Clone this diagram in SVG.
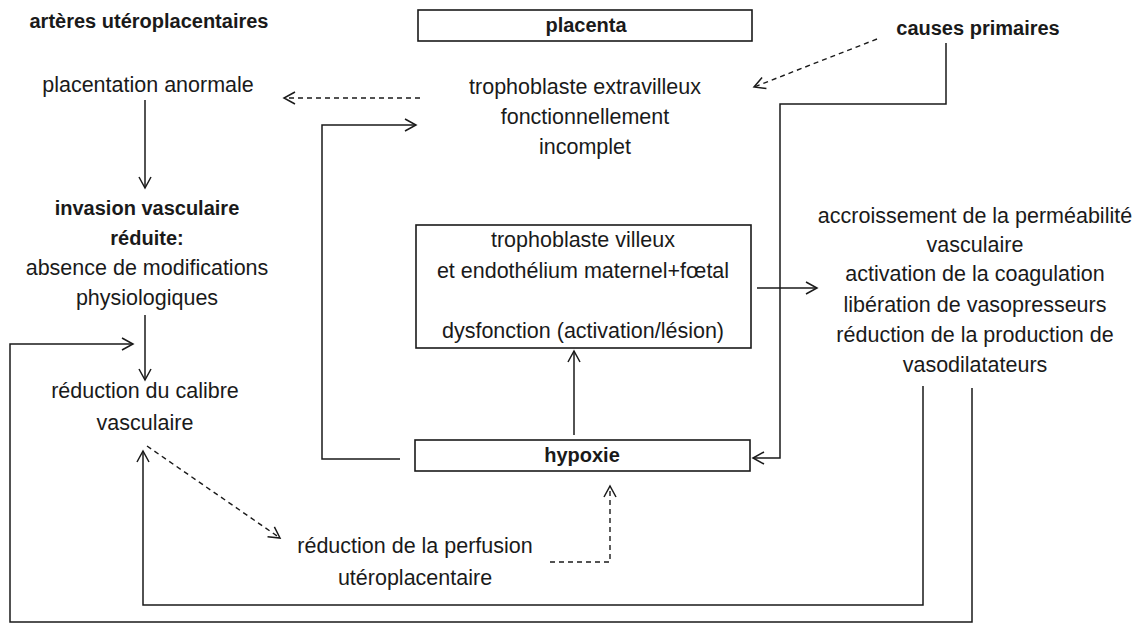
<svg xmlns="http://www.w3.org/2000/svg" width="1140" height="630" viewBox="0 0 1140 630">
<style>
text{font-family:"Liberation Sans",Arial,sans-serif;font-size:21.5px;fill:#1a1a1a;text-anchor:middle}
.b{font-weight:bold;font-size:20px}
.box{fill:none;stroke:#1a1a1a;stroke-width:1.6}
.c{fill:none;stroke:#1a1a1a;stroke-width:1.5}
.d{fill:none;stroke:#1a1a1a;stroke-width:1.4;stroke-dasharray:5 4}
</style>
<defs>
<marker id="ah" markerUnits="userSpaceOnUse" markerWidth="16" markerHeight="16" refX="12" refY="7" orient="auto">
<path d="M1,1 L12,7 L1,13" fill="none" stroke="#1a1a1a" stroke-width="1.5"/>
</marker>
</defs>
<rect width="1140" height="630" fill="#fff"/>

<g id="artheres-title"><text class="b" x="149" y="28">artères utéroplacentaires</text></g>
<g id="placenta"><rect class="box" x="418" y="10" width="334" height="31"/><text class="b" x="586" y="32">placenta</text></g>
<g id="causes-primaires"><text class="b" x="978" y="35">causes primaires</text></g>
<g id="placentation"><text x="148" y="92">placentation anormale</text></g>
<g id="trophoblaste-extravilleux">
<text x="585" y="94">trophoblaste extravilleux</text>
<text x="585" y="124">fonctionnellement</text>
<text x="585" y="154">incomplet</text>
</g>
<g id="invasion">
<text class="b" x="147" y="215">invasion vasculaire</text>
<text class="b" x="147" y="245">réduite:</text>
<text x="147" y="275">absence de modifications</text>
<text x="147" y="305">physiologiques</text>
</g>
<g id="trophoblaste-villeux">
<rect class="box" x="416" y="225" width="335" height="123"/>
<text x="583" y="247">trophoblaste villeux</text>
<text x="583" y="278">et endothélium maternel+fœtal</text>
<text x="583" y="338">dysfonction (activation/lésion)</text>
</g>
<g id="effets">
<text x="975" y="223">accroissement de la perméabilité</text>
<text x="975" y="252">vasculaire</text>
<text x="975" y="281">activation de la coagulation</text>
<text x="975" y="312">libération de vasopresseurs</text>
<text x="975" y="342">réduction de la production de</text>
<text x="975" y="372">vasodilatateurs</text>
</g>
<g id="calibre">
<text x="145" y="398">réduction du calibre</text>
<text x="145" y="430">vasculaire</text>
</g>
<g id="hypoxie"><rect class="box" x="415" y="440" width="335" height="31"/><text class="b" x="582" y="462">hypoxie</text></g>
<g id="perfusion">
<text x="415" y="553">réduction de la perfusion</text>
<text x="415" y="585">utéroplacentaire</text>
</g>

<g id="connectors">
<path class="d" d="M420,98 L284,98" marker-end="url(#ah)"/>
<path class="d" d="M877,39 L754,87" marker-end="url(#ah)"/>
<path class="c" d="M145,100 L145,188" marker-end="url(#ah)"/>
<path class="c" d="M145,315 L145,380" marker-end="url(#ah)"/>
<path class="c" d="M400,459 L322,459 L322,125 L416,125" marker-end="url(#ah)"/>
<path class="c" d="M946,43 L946,104 L780,104 L780,458 L753,458" marker-end="url(#ah)"/>
<path class="c" d="M574,435 L574,351" marker-end="url(#ah)"/>
<path class="c" d="M757,288 L817,288" marker-end="url(#ah)"/>
<path class="c" d="M923,386 L923,605 L143,605 L143,451" marker-end="url(#ah)"/>
<path class="c" d="M972,388 L972,622 L10,622 L10,344 L133,344" marker-end="url(#ah)"/>
<path class="d" d="M147,446 L280,538" marker-end="url(#ah)"/>
<path class="d" d="M550,562 L610,562 L610,486" marker-end="url(#ah)"/>
</g>
</svg>
